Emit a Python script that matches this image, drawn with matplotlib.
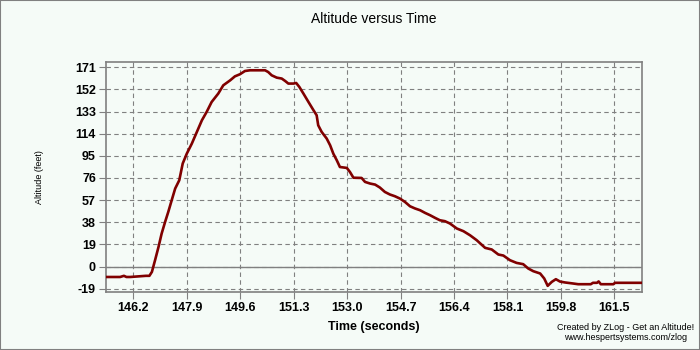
import matplotlib
matplotlib.use('Agg')
import matplotlib.pyplot as plt
from matplotlib.patches import Rectangle

# values
time_s = [145.32, 145.78, 145.90, 145.98, 146.10, 146.60, 146.71, 146.79, 146.89, 147.00,
          147.10, 147.21, 147.31, 147.42, 147.53, 147.66, 147.77, 147.90, 148.06, 148.22,
          148.38, 148.53, 148.69, 148.90, 149.06, 149.28, 149.43, 149.59, 149.75, 149.91,
          150.39, 150.49, 150.60, 150.76, 150.92, 151.03, 151.13, 151.29, 151.38, 151.48,
          151.61, 151.77, 151.93, 152.03, 152.08, 152.19, 152.35, 152.46, 152.56, 152.67,
          152.77, 152.99, 153.09, 153.20, 153.46, 153.57, 153.73, 153.89, 154.04, 154.20,
          154.36, 154.52, 154.68, 154.84, 155.00, 155.16, 155.32, 155.48, 155.64, 155.80,
          155.95, 156.11, 156.27, 156.49, 156.70, 156.91, 157.12, 157.39, 157.60, 157.81,
          157.97, 158.18, 158.39, 158.60, 158.76, 158.92, 159.14, 159.27, 159.38, 159.51,
          159.64, 159.77, 159.93, 160.19, 160.35, 160.75, 160.82, 160.95, 161.00, 161.07,
          161.47, 161.52, 162.38]
altitude_ft = [-9, -9, -8, -9, -9, -8, -8, -4.6, 5.4, 16.8,
               28.3, 38.3, 46.8, 56.9, 66.9, 74, 88.4, 96.9, 105.5, 115.5,
               125.5, 132.6, 141.2, 148.4, 155.5, 159.8, 163.2, 165, 167.8, 168.4,
               168.4, 166.9, 164.1, 162.1, 161.3, 159.2, 157, 157, 157.5, 154.1,
               148.4, 141.2, 134.1, 129.8, 121.2, 115.5, 109.8, 104, 96.9, 91.2,
               85.4, 84.6, 81.1, 76.2, 76, 72.6, 71.2, 70.3, 67.8, 64,
               61.8, 60.3, 58.3, 55.4, 51.7, 49.8, 48.3, 46, 44, 41.7,
               39.7, 38.9, 36.9, 32.6, 30.3, 26.8, 22.6, 16, 14.6, 10.3,
               9.4, 5.4, 3.1, 2, -1.7, -4, -6, -10.3, -16.6, -13.2,
               -10.9, -12.9, -13.7, -14.6, -15.2, -15.2, -14, -14, -12.8, -15.2,
               -15.2, -14, -14]

x_ticks = [146.2, 147.9, 149.6, 151.3, 153.0, 154.7, 156.4, 158.1, 159.8, 161.5]
y_ticks = [-19, 0, 19, 38, 57, 76, 95, 114, 133, 152, 171]

BG = '#F5FBF7'
GRID = '#808080'

plt.rcParams['font.family'] = ['Liberation Sans', 'DejaVu Sans']

fig = plt.figure(figsize=(7, 3.5), dpi=100, facecolor=BG)
ax = fig.add_axes([0.151, 0.165, 0.7666, 0.6588], facecolor=BG)

ax.set_xlim(145.32, 162.39)
ax.set_ylim(-22.1, 175.8)

ax.set_xticks(x_ticks)
ax.set_xticklabels(['%.1f' % t for t in x_ticks])
ax.set_yticks(y_ticks)
ax.set_yticklabels([str(v) for v in y_ticks])

ax.grid(True, color=GRID, linestyle=(0, (4, 3)), linewidth=0.8)
ax.axhline(0, color=GRID, linewidth=1.0, zorder=2)

for side in ax.spines.values():
    side.set_color(GRID)
    side.set_linewidth(1.2)

ax.tick_params(axis='both', colors=GRID, length=5, width=0.8, pad=2,
               labelcolor='black', labelsize=9)
for lab in ax.get_xticklabels() + ax.get_yticklabels():
    lab.set_fontweight('bold')
ax.tick_params(axis='x', pad=2)

ax.plot(time_s, altitude_ft, color='#800000', linewidth=1.9, zorder=3)

fig.text(374 / 700, 1 - 19 / 350, 'Altitude versus Time', fontsize=10,
         ha='center', va='center')
ax.set_xlabel('Time (seconds)', fontsize=9, fontweight='bold', va='center')
ax.xaxis.set_label_coords(0.5, -(327 - 292.3) / 230.6)
ax.set_ylabel('Altitude (feet)', fontsize=6.5, va='center')
ax.yaxis.set_label_coords(-(105.7 - 40) / 536.6, 0.5)

fig.text(626 / 700, 1 - 327 / 350, 'Created by ZLog - Get an Altitude!',
         fontsize=6.5, ha='center', va='center')
fig.text(626 / 700, 1 - 338 / 350, 'www.hespertsystems.com/zlog',
         fontsize=6.5, ha='center', va='center')

fig.patches.append(Rectangle((0, 0), 1, 1, transform=fig.transFigure, fill=False,
                             edgecolor=GRID, linewidth=1.5))

fig.savefig('out.png', dpi=100, facecolor=BG)
